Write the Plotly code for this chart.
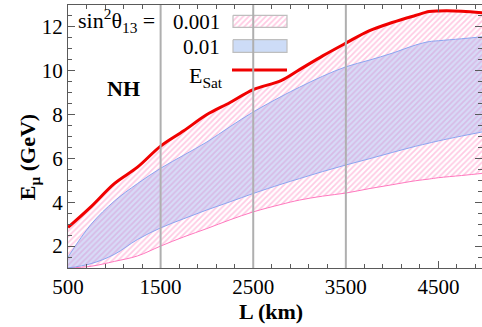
import plotly.graph_objects as go

# Baseline L (km) grid and the energy curves E (GeV)
L_km = [500, 750, 1000, 1250, 1500, 1750, 2000, 2250, 2500, 2800, 3000,
        3250, 3500, 3750, 4000, 4250, 4400, 4500, 4750, 5000]

# sin^2(theta13) = 0.001 band: lower edge (upper edge is E_sat)
band_001_lower = [1.0, 1.08, 1.3, 1.55, 2.0, 2.42, 2.8, 3.2, 3.56, 3.9, 4.1,
                  4.28, 4.42, 4.62, 4.8, 4.98, 5.06, 5.12, 5.22, 5.33]
# sin^2(theta13) = 0.01 band
band_01_lower = [1.0, 1.2, 1.62, 2.3, 2.83, 3.25, 3.65, 4.02, 4.4, 4.82, 5.08,
                 5.4, 5.7, 5.98, 6.27, 6.55, 6.7, 6.8, 7.02, 7.23]
band_01_upper = [1.5, 3.0, 4.05, 4.85, 5.55, 6.15, 6.75, 7.45, 8.12, 8.82, 9.25,
                 9.75, 10.18, 10.48, 10.8, 11.17, 11.33, 11.37, 11.46, 11.56]
# Saturation energy
E_sat = [2.85, 3.8, 4.85, 5.6, 6.56, 7.26, 8.0, 8.55, 9.14, 9.55, 10.05,
         10.68, 11.26, 11.82, 12.2, 12.52, 12.7, 12.73, 12.72, 12.64]

x_ticks = [500, 1500, 2500, 3500, 4500]
y_ticks = [2, 4, 6, 8, 10, 12]
baselines = [1500, 2500, 3500]

PINK = "rgb(255,150,200)"
PINK_LINE = "rgb(255,120,190)"
BLUE_LINE = "rgb(140,165,240)"
BLUE_FILL = "rgba(155,165,235,0.40)"
RED = "rgb(240,0,0)"
FONT = "Liberation Serif"

hatch = dict(shape="/", fgcolor=PINK, bgcolor="white", size=4, solidity=0.45)
smooth = dict(shape="spline", smoothing=1.0)

fig = go.Figure()

# 0.001 band (hatched), bounded above by E_sat
fig.add_trace(go.Scatter(x=L_km, y=band_001_lower, mode="lines",
                         line=dict(color=PINK_LINE, width=1, **smooth), showlegend=False))
fig.add_trace(go.Scatter(x=L_km, y=E_sat, mode="lines", line=dict(width=0, **smooth),
                         fill="tonexty", fillpattern=hatch, showlegend=False))
# 0.01 band (translucent blue)
fig.add_trace(go.Scatter(x=L_km, y=band_01_lower, mode="lines",
                         line=dict(color=BLUE_LINE, width=1, **smooth), showlegend=False))
fig.add_trace(go.Scatter(x=L_km, y=band_01_upper, mode="lines",
                         line=dict(color=BLUE_LINE, width=1, **smooth),
                         fill="tonexty", fillcolor=BLUE_FILL, showlegend=False))
# E_sat curve
fig.add_trace(go.Scatter(x=L_km, y=E_sat, mode="lines",
                         line=dict(color=RED, width=3, **smooth), showlegend=False))

# Legend drawn in a pixel-like helper frame (x2/y2)
fig.add_trace(go.Scatter(x=[165, 219, 219, 165, 165], y=[10.3, 10.3, 22.3, 22.3, 10.3],
                         xaxis="x2", yaxis="y2", mode="lines",
                         line=dict(color="rgb(190,190,190)", width=1.2),
                         fill="toself", fillpattern=hatch, showlegend=False))
fig.add_trace(go.Scatter(x=[165, 219, 219, 165, 165], y=[34.7, 34.7, 47.3, 47.3, 34.7],
                         xaxis="x2", yaxis="y2", mode="lines",
                         line=dict(color="rgb(190,190,190)", width=1.2),
                         fill="toself", fillcolor="rgb(205,220,247)", showlegend=False))
fig.add_trace(go.Scatter(x=[164, 219], y=[65, 65], xaxis="x2", yaxis="y2", mode="lines",
                         line=dict(color=RED, width=3), showlegend=False))

for xb in baselines:
    fig.add_vline(x=xb, line=dict(color="rgb(175,175,175)", width=2), layer="above")

axis_common = dict(showline=True, linecolor="rgb(90,90,90)", linewidth=1.2,
                   mirror="allticks", ticks="inside", tickcolor="rgb(90,90,90)",
                   ticklen=7, tickwidth=1, showgrid=False, zeroline=False,
                   tickfont=dict(family=FONT, size=21, color="black"))

fig.update_layout(
    width=482, height=327,
    margin=dict(l=68, r=0, t=5, b=59),
    plot_bgcolor="white", paper_bgcolor="white",
    xaxis=dict(range=[500, 4970], tickvals=x_ticks,
               minor=dict(dtick=200, tick0=500, ticks="inside", ticklen=3.5,
                          tickcolor="rgb(90,90,90)"),
               **axis_common),
    yaxis=dict(range=[1, 13], tickvals=y_ticks,
               minor=dict(dtick=0.5, tick0=1, ticks="inside", ticklen=3.5,
                          tickcolor="rgb(90,90,90)"),
               **axis_common),
    xaxis2=dict(range=[0, 414], overlaying="x", visible=False, fixedrange=True),
    yaxis2=dict(range=[263, 0], overlaying="y", visible=False, fixedrange=True),
    font=dict(family=FONT, color="black"),
)

ann = [
    dict(text="sin<sup>2</sup>θ<sub>13</sub>\u00a0=", x=8, y=15, xanchor="left",
         yanchor="middle", font=dict(size=22)),
    dict(text="0.001", x=154, y=16.7, xanchor="right", yanchor="middle",
         font=dict(size=21)),
    dict(text="0.01", x=154, y=41.7, xanchor="right", yanchor="middle",
         font=dict(size=21)),
    dict(text="E<sub>Sat</sub>", x=157, y=72, xanchor="right", yanchor="middle",
         font=dict(size=22)),
    dict(text="<b>NH</b>", x=55, y=83, xanchor="center", yanchor="middle",
         font=dict(size=22)),
]
for a in ann:
    fig.add_annotation(xref="x2", yref="y2", showarrow=False, **a)

fig.add_annotation(text="<b>L (km)</b>", xref="paper", yref="paper",
                   x=0.49, y=-0.165, xanchor="center", yanchor="middle",
                   showarrow=False, font=dict(size=22))
fig.add_annotation(text="<b>E<sub>μ</sub> (GeV)</b>", xref="paper", yref="paper",
                   x=-0.095, y=0.42, xanchor="center", yanchor="middle",
                   textangle=-90, showarrow=False, font=dict(size=22))

fig.write_html("out.html")
